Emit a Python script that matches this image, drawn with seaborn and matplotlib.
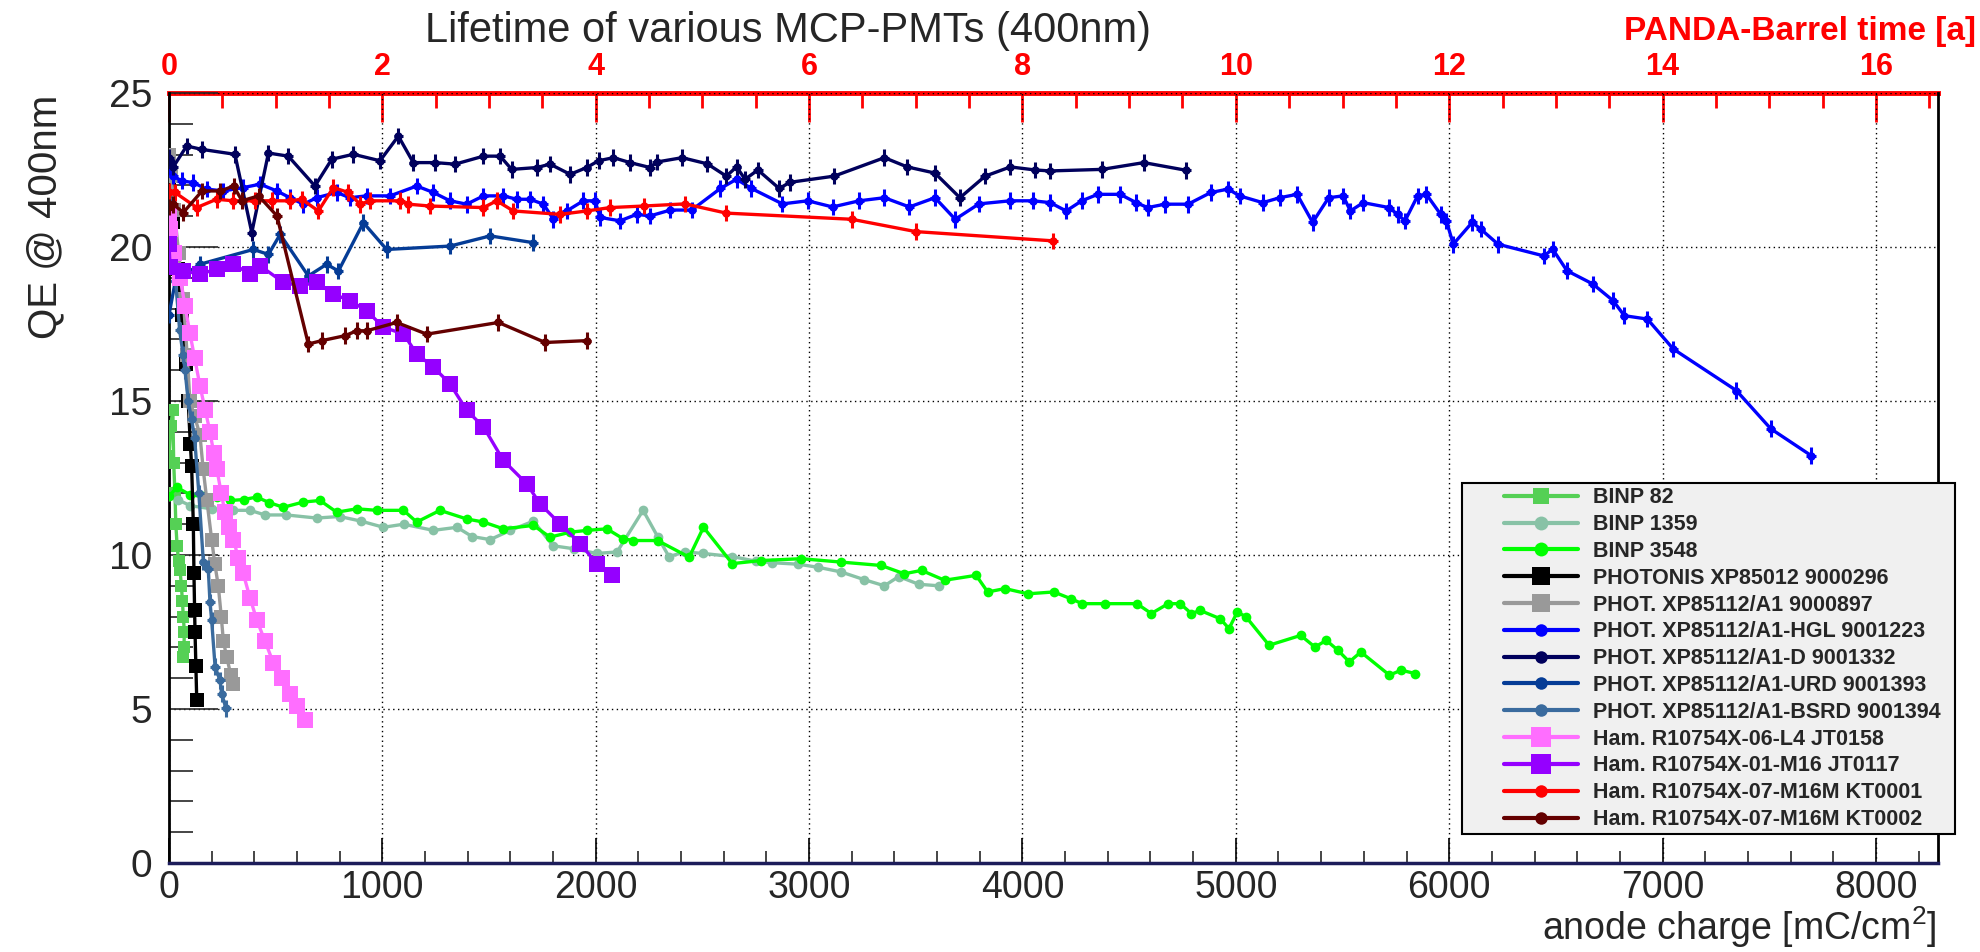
import numpy as np
import pandas as pd
import matplotlib
matplotlib.use("Agg")
import matplotlib.pyplot as plt
import seaborn as sns
from matplotlib.lines import Line2D
from matplotlib.legend_handler import HandlerLine2D
from matplotlib.ticker import MultipleLocator, FuncFormatter

# ---------------- data ----------------
labels = ["BINP 82", "BINP 1359", "BINP 3548", "PHOTONIS XP85012 9000296",
          "PHOT. XP85112/A1 9000897", "PHOT. XP85112/A1-HGL 9001223",
          "PHOT. XP85112/A1-D 9001332", "PHOT. XP85112/A1-URD 9001393",
          "PHOT. XP85112/A1-BSRD 9001394", "Ham. R10754X-06-L4 JT0158",
          "Ham. R10754X-01-M16 JT0117", "Ham. R10754X-07-M16M KT0001",
          "Ham. R10754X-07-M16M KT0002"]

x_binp82 = [0, 8, 18, 22, 28, 32, 38, 45, 52, 58, 63, 67, 72, 70, 67]
y_binp82 = [13.2, 14.2, 14.7, 13.0, 12.0, 11.0, 10.3, 9.8, 9.5, 9.0, 8.5, 8.0, 7.5, 7.0, 6.7]

x_binp1359 = [0, 40, 100, 200, 300, 380, 450, 550, 692, 800, 900, 1005, 1100, 1239, 1350, 1420,
              1505, 1600, 1708, 1800, 1900, 2005, 2100, 2222, 2290, 2343, 2420, 2504, 2640, 2750,
              2827, 2950, 3043, 3150, 3258, 3353, 3420, 3514, 3608]
y_binp1359 = [11.9, 11.8, 11.6, 11.5, 11.45, 11.45, 11.3, 11.3, 11.2, 11.25, 11.1, 10.9, 11.0, 10.8,
              10.9, 10.6, 10.5, 10.8, 11.1, 10.3, 10.2, 10.05, 10.1, 11.45, 10.6, 9.95, 10.1, 10.05,
              9.95, 9.8, 9.75, 9.7, 9.6, 9.45, 9.2, 9.0, 9.3, 9.05, 9.0]

x_binp3548 = [0, 36, 100, 160, 224, 286, 350, 411, 470, 536, 630, 708, 786, 880, 974, 1099, 1161,
              1270, 1395, 1474, 1567, 1708, 1786, 1880, 1960, 2052, 2128, 2177, 2290, 2438, 2505,
              2640, 2774, 2963, 3150, 3338, 3446, 3527, 3635, 3783, 3837, 3918, 4025, 4147, 4227,
              4280, 4388, 4536, 4604, 4683, 4739, 4792, 4833, 4927, 4968, 5007, 5048, 5156, 5304,
              5371, 5424, 5478, 5532, 5586, 5720, 5775, 5842]
y_binp3548 = [11.9, 12.2, 11.95, 11.9, 11.88, 11.77, 11.8, 11.88, 11.7, 11.55, 11.72, 11.77, 11.39,
              11.5, 11.45, 11.45, 11.07, 11.45, 11.17, 11.07, 10.85, 10.96, 10.58, 10.74, 10.8, 10.85,
              10.53, 10.47, 10.47, 9.93, 10.9, 9.72, 9.82, 9.88, 9.77, 9.66, 9.39, 9.5, 9.18, 9.34,
              8.8, 8.91, 8.74, 8.8, 8.58, 8.42, 8.42, 8.42, 8.1, 8.42, 8.42, 8.1, 8.2, 7.93, 7.61,
              8.15, 7.99, 7.07, 7.39, 7.01, 7.23, 6.91, 6.53, 6.85, 6.1, 6.26, 6.15]

x_photonis = [0, 20, 40, 60, 80, 90, 100, 106, 114, 117, 120, 122, 126, 130]
y_photonis = [22.0, 20.8, 19.3, 17.8, 16.2, 15.0, 13.6, 12.9, 11.0, 9.4, 8.2, 7.5, 6.4, 5.3]

x_a1 = [0, 10, 25, 45, 67, 85, 98, 120, 145, 160, 177, 200, 215, 231, 245, 255, 270, 290, 302]
y_a1 = [23.0, 22.3, 21.2, 19.8, 18.3, 16.5, 15.0, 14.5, 13.9, 12.8, 11.8, 10.5, 9.7, 9.0, 8.0,
        7.2, 6.7, 6.1, 5.8]

x_hgl = [0, 20, 59, 114, 176, 255, 349, 427, 505, 567, 630, 692, 786, 848, 926, 1036, 1161, 1239,
         1317, 1395, 1474, 1567, 1630, 1692, 1755, 1802, 1864, 1942, 1997, 2020, 2114, 2192, 2255,
         2350, 2450, 2584, 2660, 2730, 2875, 2994, 3110, 3235, 3353, 3470, 3590, 3685, 3796, 3943,
         4050, 4130, 4205, 4278, 4353, 4458, 4533, 4587, 4668, 4776, 4883, 4964, 5018, 5126, 5206,
         5287, 5360, 5435, 5503, 5537, 5597, 5718, 5758, 5793, 5852, 5893, 5960, 5987, 6019, 6108,
         6148, 6229, 6444, 6485, 6552, 6673, 6768, 6821, 6929, 7050, 7346, 7507, 7696]
y_hgl = [22.6, 22.3, 22.15, 22.09, 21.88, 21.82, 21.93, 22.04, 21.82, 21.6, 21.39, 21.6, 21.77,
         21.6, 21.66, 21.66, 21.98, 21.77, 21.5, 21.39, 21.66, 21.66, 21.55, 21.55, 21.39, 20.9,
         21.17, 21.5, 21.5, 20.96, 20.85, 21.06, 21.01, 21.2, 21.2, 21.9, 22.2, 21.9, 21.4, 21.5,
         21.3, 21.5, 21.6, 21.3, 21.6, 20.9, 21.4, 21.5, 21.5, 21.44, 21.17, 21.5, 21.71, 21.71,
         21.44, 21.28, 21.39, 21.39, 21.77, 21.88, 21.66, 21.44, 21.6, 21.71, 20.8, 21.6, 21.66,
         21.17, 21.44, 21.28, 21.06, 20.85, 21.66, 21.71, 21.06, 20.85, 20.09, 20.8, 20.58, 20.09,
         19.71, 19.93, 19.23, 18.8, 18.26, 17.77, 17.66, 16.69, 15.34, 14.1, 13.23]

x_d = [0, 20, 83, 153, 309, 388, 466, 559, 684, 763, 864, 989, 1075, 1145, 1247, 1341, 1474, 1552,
       1606, 1724, 1786, 1880, 1958, 2013, 2083, 2161, 2255, 2287, 2405, 2523, 2612, 2660, 2700,
       2760, 2860, 2910, 3117, 3353, 3460, 3590, 3707, 3825, 3943, 4061, 4130, 4373, 4569, 4768]
y_d = [22.9, 22.6, 23.28, 23.17, 23.01, 20.47, 23.05, 22.95, 21.98, 22.85, 23.01, 22.8, 23.6,
       22.74, 22.74, 22.69, 22.95, 22.95, 22.52, 22.58, 22.69, 22.36, 22.58, 22.8, 22.9, 22.74,
       22.58, 22.76, 22.9, 22.7, 22.3, 22.6, 22.2, 22.5, 21.9, 22.1, 22.3, 22.9, 22.6, 22.4, 21.6,
       22.3, 22.6, 22.5, 22.47, 22.52, 22.74, 22.49]

x_urd = [0, 30, 145, 395, 466, 521, 653, 739, 794, 911, 1020, 1317, 1505, 1708]
y_urd = [17.8, 18.9, 19.44, 19.92, 19.76, 20.41, 19.06, 19.44, 19.22, 20.79, 19.92, 20.03, 20.36, 20.14]

x_bsrd = [0, 20, 50, 66, 75, 90, 106, 120, 140, 161, 184, 192, 200, 216, 239, 247, 267]
y_bsrd = [21.5, 19.8, 17.3, 16.5, 16.0, 15.0, 14.4, 13.8, 12.0, 9.77, 9.56, 8.47, 7.88, 6.37, 5.93, 5.5, 5.02]

x_l4 = [0, 5, 25, 52, 75, 98, 120, 145, 170, 192, 210, 224, 245, 262, 282, 302, 325, 348, 380, 411,
        450, 489, 530, 567, 600, 638]
y_l4 = [21.0, 20.6, 19.8, 19.0, 18.1, 17.2, 16.4, 15.5, 14.7, 14.0, 13.3, 12.8, 12.0, 11.4, 10.9,
        10.5, 9.9, 9.4, 8.6, 7.9, 7.2, 6.5, 6.0, 5.5, 5.1, 4.65]

x_m16 = [0, 5, 67, 145, 223, 302, 380, 427, 536, 614, 692, 770, 848, 927, 1005, 1099, 1161, 1239,
         1317, 1395, 1474, 1567, 1677, 1739, 1833, 1927, 2005, 2075]
y_m16 = [20.1, 19.34, 19.23, 19.12, 19.28, 19.44, 19.12, 19.39, 18.85, 18.74, 18.85, 18.47, 18.26,
         17.93, 17.39, 17.18, 16.53, 16.1, 15.56, 14.7, 14.16, 13.07, 12.31, 11.66, 11.01, 10.37,
         9.72, 9.34]

x_kt1 = [0, 28, 130, 223, 302, 403, 481, 567, 622, 700, 770, 841, 895, 942, 1083, 1122, 1223, 1474,
         1536, 1614, 1833, 1958, 2067, 2224, 2418, 2612, 3200, 3500, 4143]
y_kt1 = [21.8, 21.77, 21.28, 21.55, 21.5, 21.5, 21.5, 21.5, 21.55, 21.17, 21.93, 21.77, 21.39, 21.5,
         21.5, 21.39, 21.33, 21.28, 21.5, 21.17, 21.06, 21.17, 21.28, 21.33, 21.4, 21.1, 20.9, 20.5,
         20.2]

x_kt2 = [0, 20, 67, 155, 241, 303, 342, 420, 506, 653, 716, 825, 880, 927, 1067, 1208, 1544, 1763, 1958]
y_kt2 = [21.3, 21.39, 21.12, 21.82, 21.82, 21.98, 21.5, 21.66, 21.01, 16.85, 16.96, 17.12, 17.28,
         17.28, 17.55, 17.17, 17.55, 16.9, 16.96]

top_ticks = [0, 2, 4, 6, 8, 10, 12, 14, 16]

# ---------------- styles ----------------
colors = ["#55d055", "#88c2a6", "#00ff00", "#000000", "#999999", "#0000ff", "#00005c",
          "#053c96", "#3a6b9e", "#ff6eff", "#9500ff", "#ff0000", "#640000"]
markers = ["s", "o", "o", "s", "s", "o", "o", "o", "o", "s", "s", "o", "o"]
msizes = [8, 7, 7, 10, 10, 6, 6, 6, 6, 11, 11, 6, 6]
errbars = [False, False, False, False, False, True, True, True, True, False, False, True, True]

series = [(x_binp82, y_binp82), (x_binp1359, y_binp1359), (x_binp3548, y_binp3548),
          (x_photonis, y_photonis), (x_a1, y_a1), (x_hgl, y_hgl), (x_d, y_d), (x_urd, y_urd),
          (x_bsrd, y_bsrd), (x_l4, y_l4), (x_m16, y_m16), (x_kt1, y_kt1), (x_kt2, y_kt2)]

sns.set_style("white")
plt.rcParams["font.family"] = ["Liberation Sans", "DejaVu Sans"]
plt.rcParams["mathtext.fontset"] = "custom"
plt.rcParams["mathtext.rm"] = "Liberation Sans"
plt.rcParams["mathtext.default"] = "regular"

W, H = 1980, 952
fig = plt.figure(figsize=(W / 100, H / 100), dpi=100)
L, R, T, B = 169, 1938, 93, 863
ax = fig.add_axes([L / W, 1 - B / H, (R - L) / W, (B - T) / H])

handles = []
for i, (xs, ys) in enumerate(series):
    df = pd.DataFrame({"x": xs, "y": ys})
    z = 3 + i
    sns.lineplot(data=df, x="x", y="y", sort=False, estimator=None, ax=ax, color=colors[i],
                 marker=markers[i], markersize=msizes[i], markeredgewidth=0, linewidth=2.4,
                 zorder=z, legend=False)
    if errbars[i]:
        ax.errorbar(xs, ys, yerr=0.27, xerr=22, fmt="none", ecolor=colors[i], elinewidth=2.2,
                    capsize=0, zorder=z)
    handles.append(Line2D([], [], color=colors[i], lw=3, marker=markers[i],
                          markersize=msizes[i] + 3, markeredgewidth=0, label=labels[i]))

ax.set_xlim(0, 8291)
ax.set_ylim(0, 25)
ax.set_xlabel("")
ax.set_ylabel("")

ax.xaxis.set_major_locator(MultipleLocator(1000))
ax.xaxis.set_minor_locator(MultipleLocator(200))
ax.yaxis.set_major_locator(MultipleLocator(5))
ax.yaxis.set_minor_locator(MultipleLocator(1))
ax.tick_params(axis="x", which="major", direction="in", length=18, width=1.2, top=False,
               bottom=True, labelsize=27, pad=5, color="black")
ax.tick_params(axis="x", which="minor", direction="in", length=9, width=1.2, top=False, bottom=True)
ax.tick_params(axis="y", which="major", direction="in", length=35, width=1.2, left=True,
               right=False, labelsize=28, pad=12)
ax.tick_params(axis="y", which="minor", direction="in", length=17, width=1.2, left=True, right=False)
ax.grid(True, which="major", color="black", linestyle=(0, (1, 2.5)), linewidth=1.0)
ax.set_axisbelow(True)

for s in ["left", "right"]:
    ax.spines[s].set_color("black")
    ax.spines[s].set_linewidth(2)
ax.spines["bottom"].set_color("#1c1c5a")
ax.spines["bottom"].set_linewidth(2.5)
ax.spines["top"].set_visible(False)

sec = ax.secondary_xaxis("top", functions=(lambda v: v / 500.0, lambda v: v * 500.0))
sec.set_xticks(top_ticks)
sec.xaxis.set_minor_locator(MultipleLocator(0.5))
sec.xaxis.set_major_formatter(FuncFormatter(lambda v, p: f"{v:.0f}"))
sec.tick_params(which="major", direction="in", length=21, width=2, color="red",
                labelcolor="red", labelsize=22, pad=8)
sec.tick_params(which="minor", direction="in", length=11, width=2, color="red")
sec.spines["top"].set_color("red")
sec.spines["top"].set_linewidth(3.5)
plt.setp(sec.get_xticklabels(), fontweight="bold")


class OffsetHandler(HandlerLine2D):
    def create_artists(self, legend, orig_handle, xdescent, ydescent, width, height,
                       fontsize, trans):
        off = 0.34 * width
        return super().create_artists(legend, orig_handle, xdescent - off, ydescent,
                                      width - off, height, fontsize, trans)


leg = ax.legend(handles=handles, loc="upper left",
                bbox_to_anchor=((1462 - L) / (R - L), 0.0, (1955 - 1462) / (R - L), (B - 483) / (B - T)),
                mode="expand", borderaxespad=0, prop={"weight": "bold", "size": 15.5},
                handlelength=5.2, handletextpad=0.7, labelspacing=0.27, borderpad=0.2,
                frameon=True, fancybox=False, facecolor="#f0f0f0", edgecolor="black",
                framealpha=1, numpoints=1,
                handler_map={Line2D: OffsetHandler()})
leg.get_frame().set_linewidth(1.5)
leg.set_zorder(50)

fig.text(788 / W, 1 - 42 / H, "Lifetime of various MCP-PMTs (400nm)", ha="center",
         va="baseline", fontsize=30)
fig.text(1976 / W, 1 - 40 / H, "PANDA-Barrel time [a]", ha="right", va="baseline",
         fontsize=24, fontweight="bold", color="red")
fig.text(1937 / W, 1 - 950 / H, "anode charge [mC/cm$^2$]", ha="right", va="bottom",
         fontsize=27)
fig.text(45 / W, 1 - 95 / H, "QE @ 400nm", rotation=90, ha="center", va="top", fontsize=29)

fig.savefig("out.png", dpi=100, facecolor="white")
